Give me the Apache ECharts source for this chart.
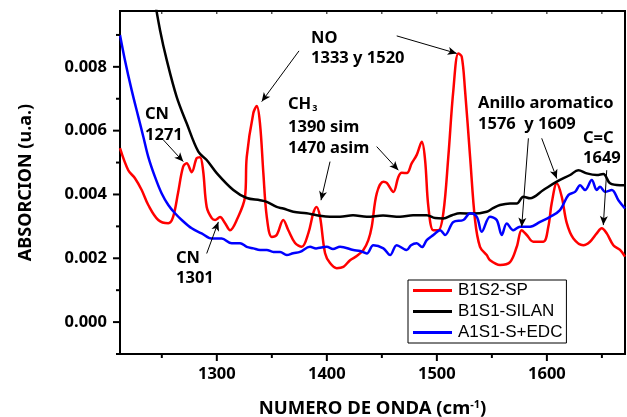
<!DOCTYPE html>
<html>
<head>
<meta charset="utf-8">
<script src="https://cdn.jsdelivr.net/npm/echarts@6/dist/echarts.min.js"></script>
<style>
  html, body { margin: 0; padding: 0; background: #fff; }
  #chart { width: 627px; height: 417px; }
</style>
</head>
<body>
<div id="chart"></div>
<script>
// espectros: [numero de onda, absorcion]
const b1s2sp = [
  [1212, 0.00545], [1219.5, 0.00476], [1225.6, 0.00451], [1231.7, 0.00414], [1237.7, 0.00367],
  [1246.8, 0.00320], [1255.9, 0.00310], [1260.2, 0.00329], [1264.7, 0.00404], [1269.3, 0.00486],
  [1272.6, 0.00498], [1277.2, 0.00470], [1281.7, 0.00514], [1284.7, 0.00517], [1287.5, 0.00476],
  [1290.8, 0.00361], [1295.4, 0.00326], [1298.4, 0.00320], [1302.9, 0.00329], [1307.5, 0.00310],
  [1312.0, 0.00288], [1318.1, 0.00320], [1325.6, 0.00392], [1327.2, 0.00518], [1333.2, 0.00655],
  [1336.3, 0.00677], [1339.3, 0.00620], [1342.3, 0.00467], [1345.4, 0.00330], [1349.9, 0.00267],
  [1354.4, 0.00273], [1360.4, 0.00320], [1365.0, 0.00288], [1371.1, 0.00248], [1377.2, 0.00236],
  [1383.2, 0.00279], [1387.7, 0.00342], [1390.6, 0.00361], [1393.8, 0.00330], [1398.4, 0.00216],
  [1402.9, 0.00185], [1409.0, 0.00169], [1415.0, 0.00173], [1421.1, 0.00194], [1427.2, 0.00207],
  [1433.2, 0.00226], [1437.7, 0.00257], [1440.8, 0.00299], [1445.4, 0.00404], [1451.4, 0.00440],
  [1454.5, 0.00436], [1460.5, 0.00408], [1465.0, 0.00455], [1468.1, 0.00468], [1472.7, 0.00467],
  [1477.2, 0.00498], [1481.7, 0.00524], [1486.3, 0.00565], [1489.3, 0.00508], [1492.3, 0.00361],
  [1496.8, 0.00288], [1501.4, 0.00288], [1505.9, 0.00342], [1510.4, 0.00518], [1515.0, 0.00727],
  [1519.5, 0.00842], [1522.6, 0.00832], [1525.6, 0.00727], [1530.2, 0.00518], [1534.7, 0.00320],
  [1539.2, 0.00236], [1545.3, 0.00210], [1548.3, 0.00194], [1557.4, 0.00179], [1566.5, 0.00188],
  [1572.6, 0.00236], [1577.1, 0.00288], [1581.7, 0.00273], [1587.7, 0.00252], [1596.8, 0.00252],
  [1601.3, 0.00299], [1604.4, 0.00373], [1609.0, 0.00435], [1613.5, 0.00393], [1618.1, 0.00310],
  [1624.1, 0.00262], [1633.1, 0.00241], [1639.2, 0.00252], [1645.3, 0.00278], [1649.8, 0.00294],
  [1654.4, 0.00278], [1660.4, 0.00241], [1666.5, 0.00226], [1671, 0.00205]
]

const b1s1silan = [
  [1242, 0.0104], [1248.4, 0.00915], [1254.5, 0.00821], [1263.5, 0.00706], [1272.6, 0.00623],
  [1283.2, 0.00534], [1290.8, 0.00508], [1299.9, 0.00467], [1315.0, 0.00414], [1327.2, 0.00389],
  [1339.3, 0.00382], [1345.4, 0.00377], [1354.4, 0.00361], [1360.4, 0.00356], [1369.5, 0.00346],
  [1381.7, 0.00341], [1390.8, 0.00335], [1402.9, 0.00330], [1412.0, 0.00330], [1423.8, 0.00335],
  [1436.3, 0.00330], [1451.1, 0.00334], [1466.5, 0.00330], [1478.4, 0.00335], [1490.8, 0.00335],
  [1498.4, 0.00326], [1505.9, 0.00325], [1513.8, 0.00335], [1521.0, 0.00341], [1532.9, 0.00340],
  [1545.3, 0.00346], [1551.0, 0.00357], [1557.4, 0.00367], [1566.5, 0.00372], [1572.6, 0.00372],
  [1578.6, 0.00393], [1584.7, 0.00388], [1596.8, 0.00414], [1609.0, 0.00440], [1621.1, 0.00461],
  [1628.6, 0.00476], [1636.3, 0.00466], [1645.3, 0.00461], [1651.3, 0.00464], [1657.4, 0.00435],
  [1666.5, 0.00429], [1671, 0.00429]
]

const a1s1sedc = [
  [1212, 0.00900], [1216.5, 0.00821], [1222.6, 0.00727], [1228.6, 0.00644], [1233.2, 0.00581],
  [1237.7, 0.00518], [1243.8, 0.00455], [1249.9, 0.00403], [1255.9, 0.00367], [1262.0, 0.00341],
  [1268.1, 0.00320], [1277.2, 0.00294], [1286.2, 0.00278], [1295.3, 0.00262], [1304.4, 0.00262],
  [1313.5, 0.00247], [1321.1, 0.00247], [1327.2, 0.00236], [1333.2, 0.00231], [1339.3, 0.00226],
  [1345.4, 0.00226], [1351.4, 0.00220], [1357.5, 0.00220], [1363.6, 0.00210], [1369.3, 0.00216],
  [1375.6, 0.00220], [1384.7, 0.00236], [1390.2, 0.00231], [1399.9, 0.00236], [1405.6, 0.00229],
  [1412.0, 0.00236], [1424.1, 0.00226], [1430.2, 0.00223], [1436.3, 0.00215], [1442.3, 0.00241],
  [1451.4, 0.00231], [1457.5, 0.00210], [1463.5, 0.00241], [1472.6, 0.00226], [1476.5, 0.00241],
  [1481.7, 0.00247], [1486.5, 0.00235], [1490.8, 0.00257], [1496.8, 0.00273], [1502.9, 0.00288],
  [1507.5, 0.00273], [1515.0, 0.00314], [1524.1, 0.00320], [1530.2, 0.00341], [1536.3, 0.00330],
  [1540.8, 0.00283], [1548.3, 0.00330], [1554.4, 0.00320], [1559.0, 0.00273], [1563.5, 0.00309],
  [1569.5, 0.00288], [1575.6, 0.00299], [1584.7, 0.00299], [1593.8, 0.00314], [1602.9, 0.00330],
  [1611.9, 0.00351], [1619.5, 0.00398], [1625.6, 0.00408], [1630.2, 0.00429], [1634.7, 0.00414],
  [1640.8, 0.00445], [1645.3, 0.00414], [1648.3, 0.00424], [1652.9, 0.00408], [1659.0, 0.00414],
  [1665.0, 0.00382], [1671, 0.00356]
]

const seriesNames = ['B1S2-SP', 'B1S1-SILAN', 'A1S1-S+EDC']

const xMajor = [1300, 1400, 1500, 1600]
const xMinor = [1250, 1350, 1450, 1550, 1650]
const yMajor = [0, 0.002, 0.004, 0.006, 0.008]
const yMinor = [-0.001, 0.001, 0.003, 0.005, 0.007, 0.009]

// flechas de las anotaciones: [desde, hasta]
const arrows = [
  [[1251.4, 0.00571], [1269.5, 0.00503]],
  [[1290.8, 0.00215], [1301.4, 0.00314]],
  [[1374.7, 0.00850], [1340.8, 0.00691]],
  [[1463.5, 0.00897], [1518.1, 0.00842]],
  [[1402.9, 0.00503], [1394.7, 0.00382]],
  [[1445.3, 0.00550], [1465.0, 0.00476]],
  [[1583.2, 0.00576], [1577.1, 0.00299]],
  [[1595.3, 0.00576], [1609.0, 0.00450]],
  [[1654.4, 0.00476], [1651.3, 0.00304]]
]

const FONT = 'Noto Sans'
const X_MIN = 1212
const X_MAX = 1671
const Y_MIN = -0.001
const Y_MAX = 0.00975

const chart = echarts.init(document.getElementById('chart'))

function note(text, x, y) {
  return {
    type: 'text',
    x: x,
    y: y,
    silent: true,
    style: {
      text: text,
      fill: '#000',
      fontFamily: FONT,
      fontWeight: 'bold',
      fontSize: 16.5,
      align: 'left',
      verticalAlign: 'middle',
      rich: {
        sub: { fontSize: 9, fontFamily: FONT, fontWeight: 'bold', verticalAlign: 'bottom', padding: [0, 0, 0, 1] }
      }
    }
  }
}

function tickLine(x1, y1, x2, y2, w) {
  return {
    type: 'line',
    silent: true,
    z: 10,
    shape: { x1: x1, y1: y1, x2: x2, y2: y2 },
    style: { stroke: '#000', lineWidth: w }
  }
}

const tickLabel = { color: '#000', fontFamily: FONT, fontWeight: 'bold', fontSize: 16.5 }

const option = {
  backgroundColor: '#fff',
  animation: false,
  grid: {
    left: 120, right: 2, top: 11, bottom: 63,
    outerBoundsMode: 'none',
    show: true, borderColor: '#000', borderWidth: 2, backgroundColor: 'transparent'
  },
  legend: {
    orient: 'vertical',
    left: 408,
    top: 280,
    data: seriesNames,
    icon: 'rect',
    itemWidth: 39,
    itemHeight: 3,
    itemGap: 4,
    padding: [2, 4, 2, 5],
    borderColor: '#000',
    borderWidth: 1,
    backgroundColor: '#fff',
    textStyle: { color: '#000', fontFamily: 'Liberation Sans', fontSize: 17, lineHeight: 17, padding: [0, 0, 0, 1] }
  },
  xAxis: {
    type: 'value', min: X_MIN, max: X_MAX, position: 'bottom',
    name: 'NUMERO DE ONDA (cm{sup|-1})',
    nameLocation: 'middle',
    nameGap: 45,
    nameTextStyle: {
      color: '#000', fontFamily: FONT, fontWeight: 'bold', fontSize: 18.5,
      rich: { sup: { fontFamily: FONT, fontWeight: 'bold', fontSize: 11, verticalAlign: 'top' } }
    },
    axisLine: { show: true, onZero: false, lineStyle: { color: '#000', width: 2 } },
    axisTick: { show: false },
    axisLabel: { ...tickLabel, margin: 12, customValues: xMajor, formatter: (v) => String(v) },
    splitLine: { show: false }
  },
  yAxis: {
    type: 'value', min: Y_MIN, max: Y_MAX,
    name: 'ABSORCION (u.a.)',
    nameLocation: 'middle',
    nameGap: 85,
    nameTextStyle: { color: '#000', fontFamily: FONT, fontWeight: 'bold', fontSize: 18 },
    axisLine: { show: true, onZero: false, lineStyle: { color: '#000', width: 2 } },
    axisTick: { show: false },
    axisLabel: { ...tickLabel, margin: 13, customValues: yMajor, formatter: (v) => v.toFixed(3) },
    splitLine: { show: false }
  },
  series: [
    {
      name: seriesNames[0], type: 'line', data: b1s2sp, smooth: 0.35, symbol: 'none',
      lineStyle: { color: '#ff0000', width: 2.5 }, itemStyle: { color: '#ff0000' },
      markLine: {
        silent: true,
        animation: false,
        symbol: ['none', 'arrow'],
        symbolSize: [6, 9],
        label: { show: false },
        lineStyle: { color: '#000', width: 1, type: 'solid' },
        emphasis: { disabled: true },
        data: arrows.map(([a, b]) => [{ coord: a }, { coord: b }])
      }
    },
    {
      name: seriesNames[1], type: 'line', data: b1s1silan, smooth: 0.35, symbol: 'none',
      lineStyle: { color: '#000000', width: 2.5 }, itemStyle: { color: '#000000' }
    },
    {
      name: seriesNames[2], type: 'line', data: a1s1sedc, smooth: 0.35, symbol: 'none',
      lineStyle: { color: '#0000ff', width: 2.5 }, itemStyle: { color: '#0000ff' }
    }
  ]
}

chart.setOption(option)

// marcas de los ejes, colocadas con la escala del propio grafico
const toX = (v) => chart.convertToPixel({ xAxisIndex: 0 }, v)
const toY = (v) => chart.convertToPixel({ yAxisIndex: 0 }, v)
const gLeft = toX(X_MIN)
const gBottom = toY(Y_MIN)
const gTop = toY(Y_MAX)

const ticks = []
xMajor.forEach((v) => ticks.push(tickLine(toX(v), gBottom, toX(v), gBottom + 7, 2)))
xMinor.forEach((v) => ticks.push(tickLine(toX(v), gBottom, toX(v), gBottom + 4, 2)))
xMajor.concat(xMinor).forEach((v) => ticks.push(tickLine(toX(v), gTop, toX(v), gTop + 3, 1)))
yMajor.forEach((v) => ticks.push(tickLine(gLeft - 7, toY(v), gLeft, toY(v), 2)))
yMinor.forEach((v) => ticks.push(tickLine(gLeft - 4, toY(v), gLeft, toY(v), 2)))

chart.setOption({
  graphic: [
    note('CN', 145, 114),
    note('1271', 145, 135),
    note('CN', 176, 258),
    note('1301', 176, 278),
    note('NO', 311, 38),
    note('1333 y 1520', 311, 58),
    note('CH{sub|3}', 288, 104),
    note('1390 sim', 288, 127),
    note('1470 asim', 288, 148),
    note('Anillo aromatico', 478, 103),
    note('1576  y 1609', 478, 124),
    note('C=C', 583, 138),
    note('1649', 583, 158),
    ...ticks
  ]
})
</script>
</body>
</html>
